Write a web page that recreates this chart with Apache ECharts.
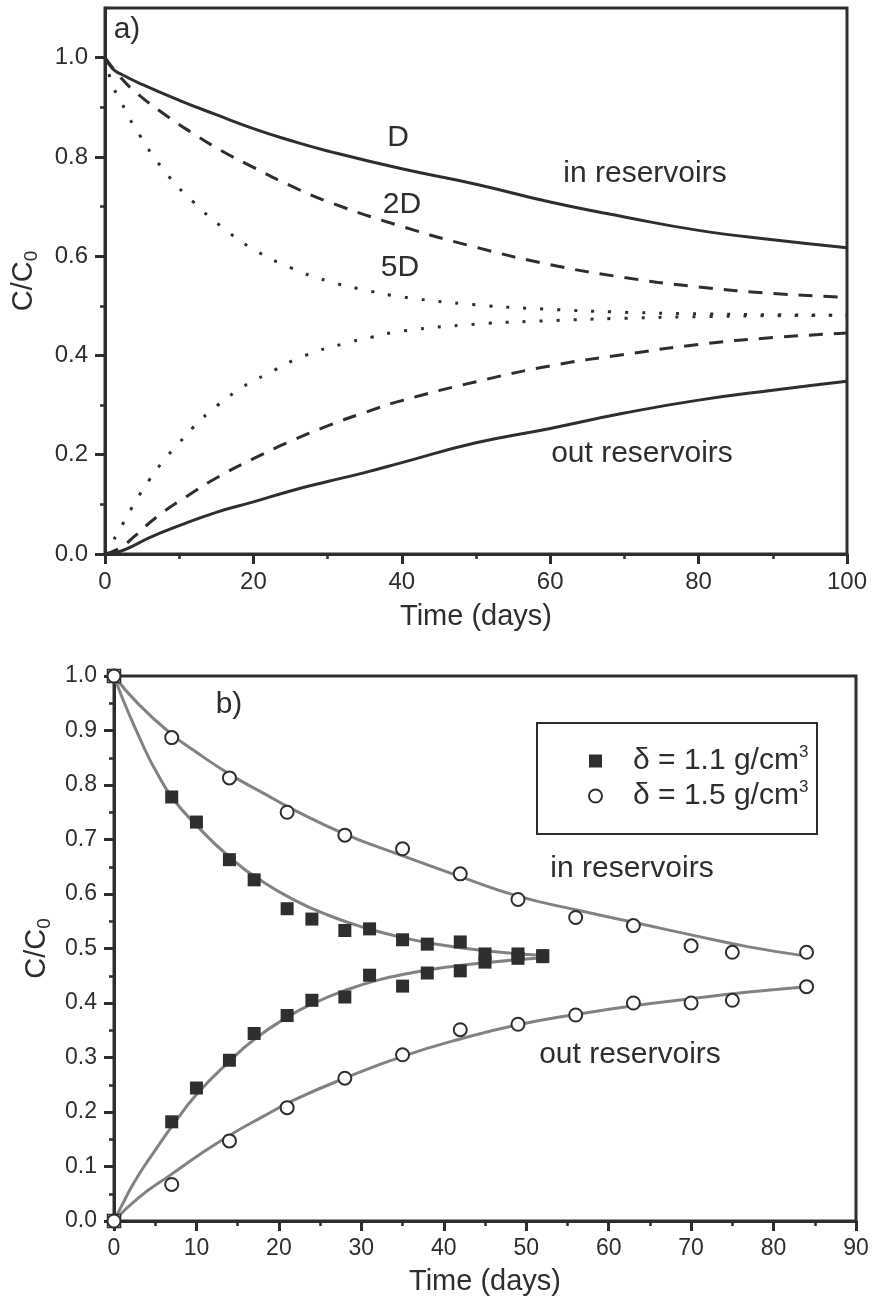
<!DOCTYPE html>
<html>
<head>
<meta charset="utf-8">
<script src="https://cdn.jsdelivr.net/npm/echarts@6.0.0/dist/echarts.min.js"></script>
<style>
  html, body { margin: 0; padding: 0; background: #fff; }
  #chart { width: 889px; height: 1307px; }
</style>
</head>
<body>
<div id="chart"></div>
<script>
// panel a) model curves, [days, C/C0]
const inD   = [[0,1.0],[1,0.978],[2,0.968],[5,0.946],[10,0.914],[15,0.885],[20,0.857],[25,0.833],[30,0.812],[40,0.776],[50,0.745],[60,0.709],[70,0.679],[80,0.652],[90,0.633],[100,0.617]];
const in2D  = [[0,1.0],[2,0.962],[4,0.932],[8,0.886],[12,0.846],[16,0.81],[20,0.779],[25,0.742],[30,0.71],[40,0.66],[50,0.618],[60,0.583],[70,0.557],[80,0.538],[90,0.525],[100,0.517]];
const in5D  = [[0,1.0],[1,0.945],[2,0.916],[4,0.86],[8,0.772],[12,0.708],[16,0.656],[20,0.614],[25,0.577],[30,0.55],[35,0.532],[40,0.518],[50,0.502],[60,0.493],[70,0.487],[80,0.484],[90,0.482],[100,0.481]];
const outD  = [[0,0],[2,0.005],[4,0.018],[6,0.033],[10,0.057],[15,0.084],[20,0.105],[25,0.127],[30,0.146],[35,0.164],[40,0.184],[50,0.224],[60,0.253],[70,0.284],[80,0.31],[90,0.33],[100,0.348]];
const out2D = [[0,0],[2,0.012],[4,0.036],[7,0.075],[11,0.116],[15,0.153],[20,0.192],[25,0.227],[30,0.258],[35,0.285],[40,0.309],[50,0.347],[60,0.379],[70,0.402],[80,0.422],[90,0.436],[100,0.445]];
const out5D = [[0,0],[1,0.024],[2,0.05],[4,0.103],[6,0.15],[8,0.19],[10,0.224],[12,0.257],[14,0.285],[18,0.331],[22,0.364],[27,0.4],[32,0.423],[36,0.437],[40,0.449],[50,0.463],[60,0.47],[70,0.475],[80,0.478],[90,0.48],[100,0.481]];

// panel b) measurements
const sqDays  = [0,7,10,14,17,21,24,28,31,35,38,42,45,49,52];
const sqIn    = [1.0,0.778,0.732,0.663,0.626,0.573,0.554,0.533,0.536,0.516,0.508,0.512,0.49,0.49,0.487];
const sqOut   = [0,0.182,0.244,0.295,0.344,0.377,0.405,0.411,0.451,0.431,0.455,0.459,0.475,0.482,0.485];
const ciDays  = [0,7,14,21,28,35,42,49,56,63,70,75,84];
const ciIn    = [1.0,0.887,0.813,0.75,0.708,0.683,0.637,0.59,0.557,0.542,0.505,0.493,0.493];
const ciOut   = [0,0.067,0.147,0.208,0.262,0.305,0.351,0.361,0.378,0.40,0.40,0.405,0.43];

// panel b) fitted curves
const fit11In  = [[0,1.0],[1,0.96],[2,0.924],[3,0.89],[4,0.857],[5,0.828],[7,0.778],[10,0.726],[14,0.668],[18,0.623],[22,0.588],[26,0.561],[30,0.54],[35,0.52],[40,0.506],[45,0.496],[52,0.487]];
const fit11Out = [[0,0],[1,0.03],[2,0.059],[3,0.085],[4,0.108],[5,0.13],[7,0.173],[10,0.232],[14,0.293],[17,0.333],[21,0.374],[24,0.398],[28,0.423],[32,0.442],[36,0.455],[40,0.465],[45,0.474],[52,0.483]];
const fit15In  = [[0,1.0],[3,0.948],[7,0.893],[10,0.86],[14,0.82],[18,0.786],[22,0.753],[28,0.71],[35,0.67],[42,0.632],[49,0.596],[56,0.571],[63,0.548],[70,0.525],[77,0.503],[84,0.486]];
const fit15Out = [[0,0],[3,0.043],[7,0.086],[10,0.118],[14,0.157],[18,0.191],[22,0.223],[28,0.262],[35,0.302],[42,0.334],[49,0.36],[56,0.379],[63,0.395],[70,0.408],[77,0.42],[84,0.43]];

// tick labels
const xTicksA = [0, 20, 40, 60, 80, 100];
const yTicksA = [0, 0.2, 0.4, 0.6, 0.8, 1.0];
const xTicksB = [0, 10, 20, 30, 40, 50, 60, 70, 80, 90];
const yTicksB = [0, 0.1, 0.2, 0.3, 0.4, 0.5, 0.6, 0.7, 0.8, 0.9, 1.0];

const font = '"Liberation Sans", Arial, sans-serif';
const ink = '#2e2e2e';
const fitGray = '#828282';

const chart = echarts.init(document.getElementById('chart'));

function xAxis(grid, max, interval, ticks, gap, fs) {
  return {
    type: 'value', gridIndex: grid, min: 0, max: max, interval: interval,
    name: 'Time (days)', nameLocation: 'middle', nameGap: gap,
    nameTextStyle: { fontFamily: font, fontSize: 29, color: ink },
    axisLine: { lineStyle: { color: ink, width: 3 } },
    axisTick: { length: 10, lineStyle: { color: ink, width: 3 }, customValues: ticks },
    minorTick: { show: true, splitNumber: 2, length: 5, lineStyle: { color: ink, width: 2.5 } },
    axisLabel: { margin: 16, fontSize: fs, fontFamily: font, color: ink, customValues: ticks },
    splitLine: { show: false }
  };
}

function yAxis(grid, max, interval, ticks, gap, fs) {
  return {
    type: 'value', gridIndex: grid, min: 0, max: max, interval: interval,
    name: '{a|C/C}{s|0}', nameLocation: 'middle', nameGap: gap, nameRotate: 90,
    nameTextStyle: {
      color: ink,
      rich: {
        a: { fontFamily: font, fontSize: 29, lineHeight: 34, color: ink },
        s: { fontFamily: font, fontSize: 19, lineHeight: 19, verticalAlign: 'bottom', color: ink }
      }
    },
    axisLine: { lineStyle: { color: ink, width: 3 } },
    axisTick: { length: 10, lineStyle: { color: ink, width: 3 }, customValues: ticks },
    minorTick: { show: true, splitNumber: 2, length: 5, lineStyle: { color: ink, width: 2.5 } },
    axisLabel: { margin: 17, fontSize: fs, fontFamily: font, color: ink, customValues: ticks,
      formatter: v => v.toFixed(1) },
    splitLine: { show: false }
  };
}

function model(data, dash) {
  return {
    type: 'line', xAxisIndex: 0, yAxisIndex: 0, data: data,
    smooth: 0.5, symbol: 'none', silent: true,
    lineStyle: { color: ink, width: 3, type: dash }
  };
}

function fit(data) {
  return {
    type: 'line', xAxisIndex: 1, yAxisIndex: 1, data: data,
    smooth: 0.5, symbol: 'none', silent: true,
    lineStyle: { color: fitGray, width: 3 }, z: 2
  };
}

const name11 = 'd11', name15 = 'd15';

function squares(vals) {
  return {
    name: name11, type: 'scatter', xAxisIndex: 1, yAxisIndex: 1, clip: false,
    symbol: 'rect', symbolSize: 13, itemStyle: { color: ink, opacity: 1 }, z: 3,
    data: sqDays.map((d, i) => i === 0
      ? { value: [d, vals[i]], itemStyle: { color: '#fff', borderColor: ink, borderWidth: 1.5 } }
      : [d, vals[i]])
  };
}

function circles(vals) {
  return {
    name: name15, type: 'scatter', xAxisIndex: 1, yAxisIndex: 1, clip: false,
    symbol: 'circle', symbolSize: 13, z: 4,
    itemStyle: { color: '#fff', borderColor: ink, borderWidth: 2, opacity: 1 },
    data: ciDays.map((d, i) => [d, vals[i]])
  };
}

const notes = [
  ['a)', 127, 30], ['D', 398, 138], ['2D', 402, 205], ['5D', 400, 268],
  ['in reservoirs', 645, 174], ['out reservoirs', 642, 454],
  ['b)', 229, 705], ['in reservoirs', 632, 869], ['out reservoirs', 630, 1055]
];

const option = {
  backgroundColor: '#fff',
  animation: false,
  grid: [
    { left: 105, top: 8, width: 742, height: 546, show: true, borderColor: ink, borderWidth: 3 },
    { left: 114, top: 676, width: 742, height: 545, show: true, borderColor: ink, borderWidth: 3 }
  ],
  xAxis: [
    xAxis(0, 100, 20, xTicksA, 48, 24),
    xAxis(1, 90, 10, xTicksB, 46, 23)
  ],
  yAxis: [
    yAxis(0, 1.1, 0.2, yTicksA, 64, 24),
    yAxis(1, 1.0, 0.1, yTicksB, 58, 23)
  ],
  legend: {
    orient: 'vertical', left: 588, top: 744, padding: 0, itemGap: 3,
    itemWidth: 13, itemHeight: 13, selectedMode: false,
    data: [{ name: name11, icon: 'rect' }, { name: name15, icon: 'circle' }],
    formatter: n => n === name11 ? '{d|δ = 1.1 g/cm}{s|3}' : '{d|δ = 1.5 g/cm}{s|3}',
    textStyle: {
      color: ink,
      rich: {
        d: { fontFamily: font, fontSize: 30, lineHeight: 34, color: ink, padding: [0, 0, 0, 26] },
        s: { fontFamily: font, fontSize: 17, lineHeight: 17, verticalAlign: 'top', color: ink }
      }
    }
  },
  graphic: [
    {
      type: 'rect', silent: true,
      shape: { x: 537, y: 723, width: 280, height: 111 },
      style: { fill: 'none', stroke: ink, lineWidth: 2 }
    }
  ].concat(notes.map(([text, x, y]) => ({
    type: 'text', x: x, y: y, silent: true,
    style: { text: text, font: '30px ' + font, fill: ink,
      align: 'center', verticalAlign: 'middle', textAlign: 'center', textVerticalAlign: 'middle' }
  }))),
  series: [
    model(inD, 'solid'), model(outD, 'solid'),
    model(in2D, [14, 11]), model(out2D, [14, 11]),
    model(in5D, [3, 14]), model(out5D, [3, 14]),
    fit(fit11In), fit(fit11Out), fit(fit15In), fit(fit15Out),
    squares(sqIn), squares(sqOut),
    circles(ciIn), circles(ciOut)
  ]
};

chart.setOption(option);
</script>
</body>
</html>
